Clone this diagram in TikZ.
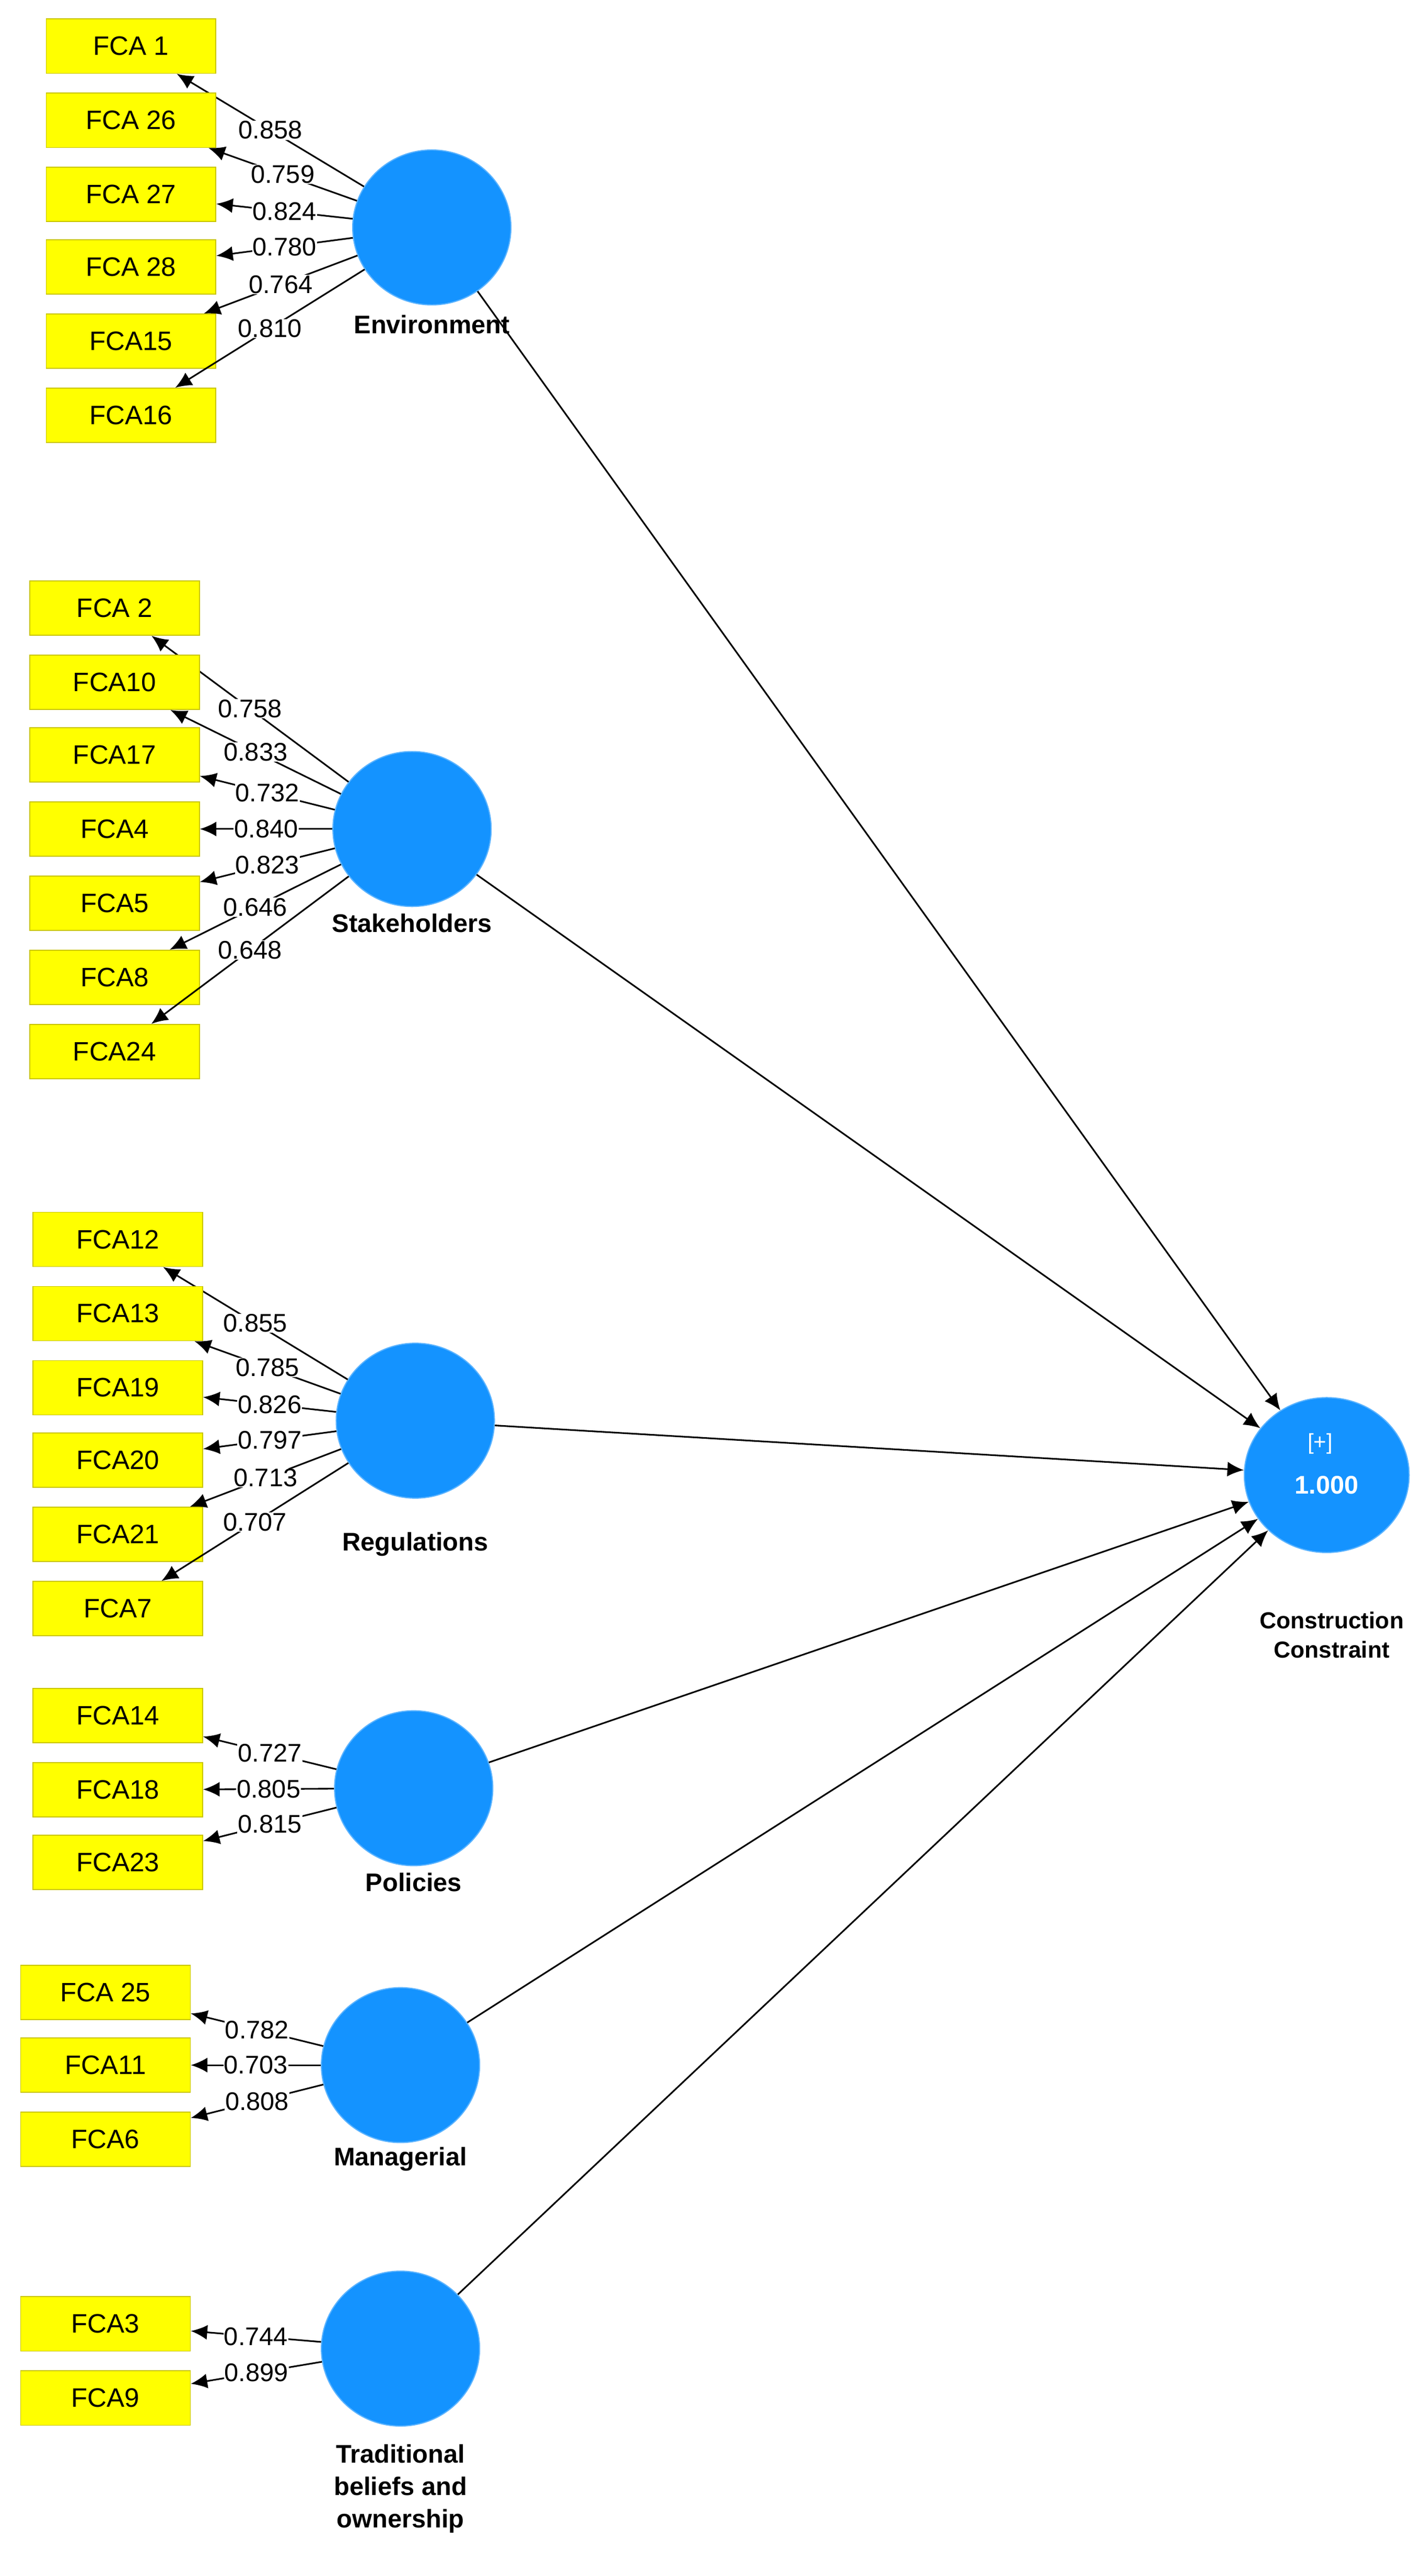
\documentclass[tikz,border=0pt]{standalone}
\usepackage{fontspec}
\setmainfont{Liberation Sans}
\usetikzlibrary{shapes.geometric,arrows.meta}
\definecolor{lv}{HTML}{1493FF}
\definecolor{ind}{HTML}{FFFF00}
\definecolor{indb}{HTML}{C8C400}
\begin{document}
\begin{tikzpicture}[x=0.1cm,y=-0.1cm,
  box/.style={rectangle,draw=indb,fill=ind,line width=1.5pt,minimum width=10.3cm,minimum height=3.3cm,inner sep=0pt,font=\fontsize{46}{54}\selectfont},
  lat/.style={ellipse,draw=lv!70!white,fill=lv,line width=2pt,minimum width=9.6cm,minimum height=9.4cm,inner sep=0pt},
  lab/.style={font=\fontsize{44}{52}\selectfont\bfseries,align=center},
  ld/.style={fill=white,inner sep=1pt,font=\fontsize{44}{52}\selectfont},
  arr/.style={line width=2.8pt,-{Latex[length=1cm,width=0.9cm]}}]
\useasboundingbox (0,0) rectangle (856,1563);
% latent variables
\node[lat] (env) at (262,138) {};
\node[lab] at (262,197) {Environment};
\node[lat] (sta) at (250,503) {};
\node[lab] at (250,560) {Stakeholders};
\node[lat] (reg) at (252,862) {};
\node[lab] at (252,937) {Regulations};
\node[lat] (pol) at (251,1085) {};
\node[lab] at (251,1142) {Policies};
\node[lat] (man) at (243,1253) {};
\node[lab] at (243,1310) {Managerial};
\node[lat] (tra) at (243,1425) {};
\node[lab,font=\fontsize{44}{56}\selectfont\bfseries] at (243,1510) {Traditional\\beliefs and\\ownership};
\node[lat,minimum width=10cm] (cc) at (805,895) {};
\node[text=white,font=\fontsize{38}{44}\selectfont] at (801,876) {[+]};
\node[text=white,font=\fontsize{44}{52}\selectfont\bfseries] at (805,901) {1.000};
\node[lab,font=\fontsize{40}{50}\selectfont\bfseries] at (808,992) {Construction\\Constraint};
% indicators
\foreach \n/\t/\y/\v in {e1/FCA 1/28/0.858,e2/FCA 26/73/0.759,e3/FCA 27/118/0.824,e4/FCA 28/162/0.780,e5/FCA15/207/0.764,e6/FCA16/252/0.810}{
  \node[box] (\n) at (79.5,\y) {\t};
  \draw[arr] (env) -- node[ld] {\v} (\n);}
\foreach \n/\t/\y/\v in {s1/FCA 2/369/0.758,s2/FCA10/414/0.833,s3/FCA17/458/0.732,s4/FCA4/503/0.840,s5/FCA5/548/0.823,s6/FCA8/593/0.646,s7/FCA24/638/0.648}{
  \node[box] (\n) at (69.5,\y) {\t};
  \draw[arr] (sta) -- node[ld] {\v} (\n);}
\foreach \n/\t/\y/\v in {r1/FCA12/752/0.855,r2/FCA13/797/0.785,r3/FCA19/842/0.826,r4/FCA20/886/0.797,r5/FCA21/931/0.713,r6/FCA7/976/0.707}{
  \node[box] (\n) at (71.5,\y) {\t};
  \draw[arr] (reg) -- node[ld] {\v} (\n);}
\foreach \n/\t/\y/\v in {p1/FCA14/1041/0.727,p2/FCA18/1086/0.805,p3/FCA23/1130/0.815}{
  \node[box] (\n) at (71.5,\y) {\t};
  \draw[arr] (pol) -- node[ld] {\v} (\n);}
\foreach \n/\t/\y/\v in {m1/FCA 25/1209/0.782,m2/FCA11/1253/0.703,m3/FCA6/1298/0.808}{
  \node[box] (\n) at (64,\y) {\t};
  \draw[arr] (man) -- node[ld] {\v} (\n);}
\foreach \n/\t/\y/\v in {t1/FCA3/1410/0.744,t2/FCA9/1455/0.899}{
  \node[box] (\n) at (64,\y) {\t};
  \draw[arr] (tra) -- node[ld] {\v} (\n);}
% structural paths
\foreach \s in {env,sta,reg,pol,man,tra}{
  \draw[arr] (\s) -- (cc);}
\end{tikzpicture}
\end{document}
